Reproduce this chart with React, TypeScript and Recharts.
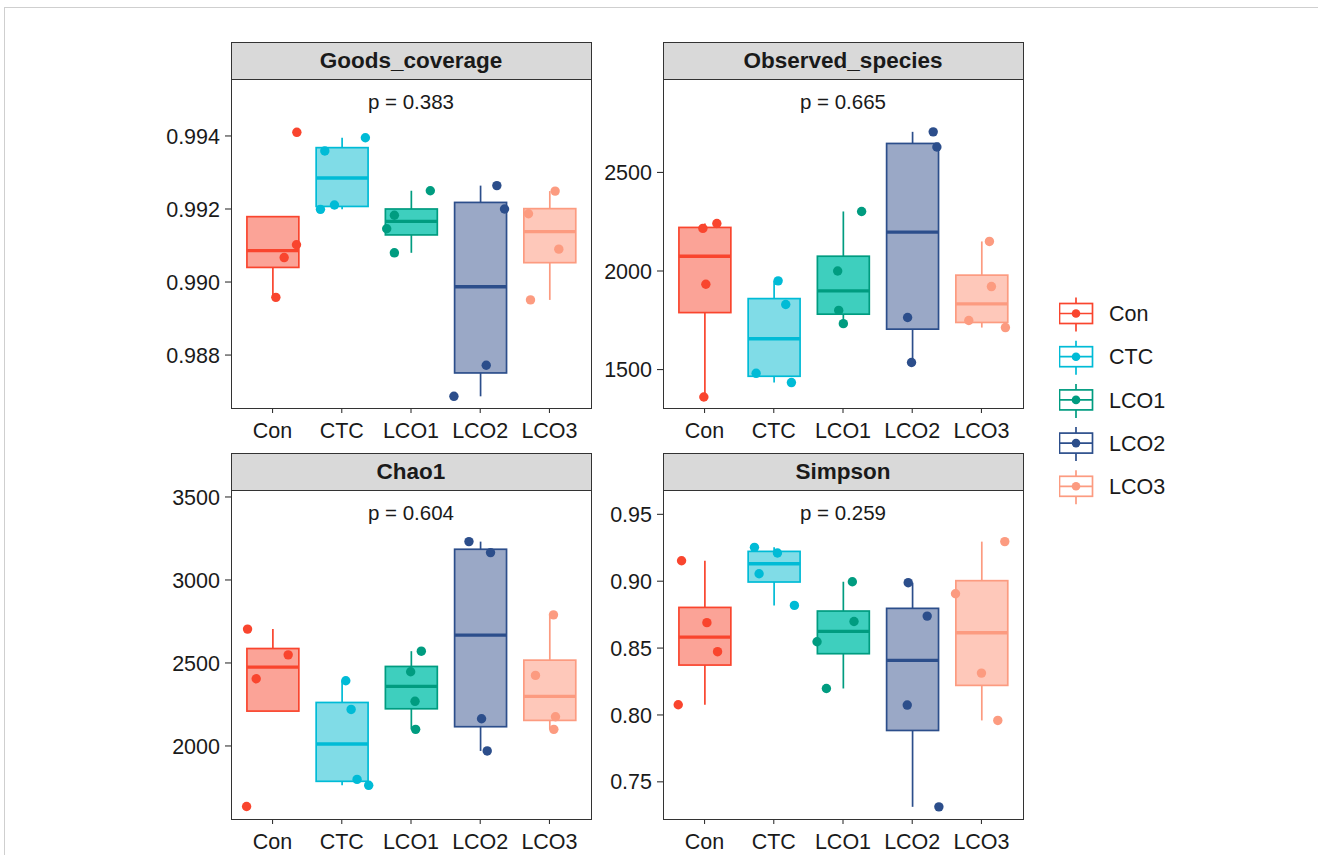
import React from 'react';
import { ComposedChart, Bar, Scatter, XAxis, YAxis } from 'recharts';

const groups = ['Con', 'CTC', 'LCO1', 'LCO2', 'LCO3'];
const lineColors = ['#F9452E', '#00BBD6', '#009C80', '#2C4E8B', '#FC9B80'];
const fillColors = ['#FBA397', '#80DCE7', '#3ECFBE', '#9AA8C6', '#FEC8BA'];

// box stats per group: [lower whisker, q1, median, q3, upper whisker]
const goodsBox = [
  [0.98958, 0.9904, 0.99086, 0.99179, 0.99179],
  [0.99199, 0.99207, 0.99285, 0.99368, 0.99395],
  [0.9908, 0.99129, 0.99166, 0.992, 0.9925],
  [0.98687, 0.98751, 0.98987, 0.99218, 0.99264],
  [0.98951, 0.99053, 0.99138, 0.99201, 0.99249],
];
const observedBox = [
  [1361, 1789, 2075, 2221, 2241],
  [1434, 1466, 1656, 1860, 1950],
  [1733, 1781, 1899, 2075, 2302],
  [1536, 1705, 2197, 2647, 2706],
  [1713, 1739, 1833, 1979, 2150],
];
const chaoBox = [
  [2210, 2210, 2475, 2587, 2704],
  [1763, 1787, 2012, 2262, 2393],
  [2100, 2224, 2359, 2479, 2571],
  [1970, 2116, 2668, 3185, 3231],
  [2100, 2154, 2299, 2517, 2790],
];
const simpsonBox = [
  [0.8076, 0.8373, 0.8582, 0.8804, 0.9153],
  [0.8819, 0.8994, 0.9131, 0.9223, 0.9253],
  [0.8198, 0.8458, 0.8625, 0.8777, 0.8996],
  [0.7313, 0.7884, 0.8408, 0.8797, 0.8989],
  [0.7959, 0.8221, 0.8615, 0.9004, 0.9296],
];

// jittered samples per group: [x position, value]
const goodsPts = [
  [[1.351, 0.9941], [1.346, 0.99102], [1.168, 0.99067], [1.048, 0.98958]],
  [[2.341, 0.99395], [1.755, 0.99359], [1.894, 0.99211], [1.692, 0.99199]],
  [[3.279, 0.9925], [2.76, 0.99183], [2.649, 0.99146], [2.76, 0.9908]],
  [[4.24, 0.99264], [4.351, 0.992], [4.087, 0.98772], [3.62, 0.98687]],
  [[5.082, 0.99249], [4.697, 0.99187], [5.135, 0.9909], [4.726, 0.98951]],
];
const observedPts = [
  [[1.178, 2241], [0.976, 2216], [1.019, 1933], [0.99, 1361]],
  [[2.063, 1950], [2.173, 1830], [1.745, 1481], [2.255, 1434]],
  [[3.269, 2302], [2.923, 2000], [2.938, 1800], [3.005, 1733]],
  [[4.303, 2706], [4.356, 2629], [3.933, 1764], [3.99, 1536]],
  [[5.115, 2150], [5.144, 1921], [4.817, 1749], [5.346, 1713]],
];
const chaoPts = [
  [[0.639, 2704], [1.226, 2549], [0.764, 2405], [0.625, 1635]],
  [[2.058, 2393], [2.135, 2220], [2.221, 1799], [2.389, 1763]],
  [[3.149, 2571], [2.995, 2447], [3.058, 2269], [3.067, 2100]],
  [[3.837, 3231], [4.149, 3165], [4.019, 2164], [4.101, 1970]],
  [[5.058, 2790], [4.798, 2425], [5.087, 2176], [5.063, 2100]],
];
const simpsonPts = [
  [[0.668, 0.9153], [1.034, 0.869], [1.188, 0.8473], [0.62, 0.8076]],
  [[1.721, 0.9253], [2.053, 0.9211], [1.788, 0.9056], [2.298, 0.8819]],
  [[3.135, 0.8996], [3.159, 0.8699], [2.625, 0.8547], [2.76, 0.8198]],
  [[3.942, 0.8989], [4.216, 0.8739], [3.928, 0.8074], [4.385, 0.7313]],
  [[5.337, 0.9296], [4.625, 0.8906], [5.0, 0.8313], [5.236, 0.7959]],
];

const goodsTicks = [0.988, 0.99, 0.992, 0.994];
const observedTicks = [1500, 2000, 2500];
const chaoTicks = [2000, 2500, 3000, 3500];
const simpsonTicks = [0.75, 0.8, 0.85, 0.9, 0.95];

const FONT = '"Liberation Sans", Arial, Helvetica, sans-serif';
const PW = 360; // panel width
const PH = 329; // panel height
const YW = 110; // y axis width
const XH = 44; // x axis height
const TOPM = 12; // room above the panel for the top tick label
const STRIP = 37;

const BoxShape = (props: any) => {
  const { x, y, width, height } = props;
  const d = props.payload ?? props;
  const [lo, q1, med, q3, hi] = d.stats;
  const top = Math.min(y, y + height);
  const bot = Math.max(y, y + height);
  const py = (v: number) => (hi === lo ? top : bot - ((v - lo) / (hi - lo)) * (bot - top));
  const cx = x + width / 2;
  const c = lineColors[d.i];
  return (
    <g>
      <line x1={cx} x2={cx} y1={py(hi)} y2={py(q3)} stroke={c} strokeWidth={1.7} />
      <line x1={cx} x2={cx} y1={py(q1)} y2={py(lo)} stroke={c} strokeWidth={1.7} />
      <rect x={x} y={py(q3)} width={width} height={py(q1) - py(q3)} fill={fillColors[d.i]} stroke={c} strokeWidth={1.7} />
      <line x1={x} x2={x + width} y1={py(med)} y2={py(med)} stroke={c} strokeWidth={3.4} />
    </g>
  );
};

const Dot = (props: any) => (
  <circle cx={props.cx} cy={props.cy} r={4.7} fill={lineColors[props.payload.g]} />
);

interface PanelProps {
  title: string;
  p: string;
  box: number[][];
  pts: number[][][];
  domain: [number, number];
  ticks: number[];
  digits: number;
  left: number;
  top: number;
}

function Panel({ title, p, box, pts, domain, ticks, digits, left, top }: PanelProps) {
  const rows = groups.map((g, i) => ({ group: g, range: [box[i][0], box[i][4]], stats: box[i], i }));
  const dots = pts.flatMap((list, i) => list.map(([x, y]) => ({ x, y, g: i })));
  const pad = (PW / 5.2) * 0.1;
  const tickStyle = { fill: '#1a1a1a', fontSize: 21.5, fontFamily: FONT };
  return (
    <>
      <div
        style={{
          position: 'absolute', left: left - 0.5, top: top - STRIP, width: PW + 1, height: STRIP + 1,
          boxSizing: 'border-box', border: '1px solid #333', background: '#d9d9d9',
          display: 'flex', alignItems: 'center', justifyContent: 'center',
          fontFamily: FONT, fontWeight: 'bold', fontSize: 22.5, color: '#1a1a1a',
        }}
      >
        {title}
      </div>
      <div style={{ position: 'absolute', left: left - YW, top: top - TOPM }}>
        <ComposedChart width={YW + PW} height={TOPM + PH + XH} data={rows} margin={{ top: TOPM, right: 0, bottom: 0, left: 0 }}>
          <XAxis
            xAxisId="num" dataKey="x" type="number" domain={[0.4, 5.6]} ticks={[1, 2, 3, 4, 5]}
            allowDataOverflow interval={0} height={XH} axisLine={false}
            tickLine={{ stroke: '#333', strokeWidth: 1.1 }} tickSize={5} tickMargin={10}
            tickFormatter={(v: number) => groups[Math.round(v) - 1]} tick={tickStyle}
          />
          <XAxis xAxisId="cat" dataKey="group" type="category" hide height={0} padding={{ left: pad, right: pad }} />
          <YAxis
            dataKey="y" type="number" domain={domain} ticks={ticks} allowDataOverflow width={YW}
            axisLine={false} tickLine={{ stroke: '#333', strokeWidth: 1.1 }} tickSize={6} tickMargin={5}
            interval={0} tickFormatter={(v: number) => v.toFixed(digits)} tick={tickStyle}
          />
          <Bar xAxisId="cat" dataKey="range" barSize={PW / 5.2 * 0.75} shape={BoxShape} isAnimationActive={false} />
          <Scatter xAxisId="num" data={dots} dataKey="y" shape={Dot} isAnimationActive={false} />
        </ComposedChart>
      </div>
      <div
        style={{
          position: 'absolute', left: left - 0.5, top: top, width: PW + 1, height: PH + 0.5,
          boxSizing: 'border-box', border: '1px solid #333', pointerEvents: 'none',
        }}
      />
      <div
        style={{
          position: 'absolute', left, top: top + 11, width: PW, textAlign: 'center',
          fontFamily: FONT, fontSize: 20.5, color: '#1a1a1a', lineHeight: '24px',
        }}
      >
        {p}
      </div>
    </>
  );
}

function LegendBox() {
  const cx = 17;
  return (
    <svg width={140} height={230} style={{ position: 'absolute', left: 1059, top: 290 }}>
      {groups.map((g, i) => {
        const cy = 23.5 + i * 43.2;
        const c = lineColors[i];
        return (
          <g key={g}>
            <line x1={cx} x2={cx} y1={cy - 16} y2={cy + 18} stroke={c} strokeWidth={1.7} />
            <rect x={0.5} y={cy - 10} width={33} height={20} fill="#fff" stroke={c} strokeWidth={1.7} />
            <line x1={0.5} x2={33.5} y1={cy} y2={cy} stroke={c} strokeWidth={1.7} />
            <circle cx={cx} cy={cy} r={4.3} fill={c} />
            <text x={50} y={cy} dy="0.36em" fontFamily={FONT} fontSize={21.5} fill="#1a1a1a">
              {g}
            </text>
          </g>
        );
      })}
    </svg>
  );
}

export default function App() {
  return (
    <div style={{ position: 'absolute', left: 0, top: 0, width: 1318, height: 855, overflow: 'hidden', background: '#fff' }}>
      <div
        style={{
          position: 'absolute', left: 4, top: 7, width: 1400, height: 900,
          borderLeft: '1.5px solid #cfcfcf', borderTop: '1.5px solid #cfcfcf',
        }}
      />
      <Panel title="Goods_coverage" p="p = 0.383" box={goodsBox} pts={goodsPts}
        domain={[0.98655, 0.99556]} ticks={goodsTicks} digits={3} left={231} top={79} />
      <Panel title="Observed_species" p="p = 0.665" box={observedBox} pts={observedPts}
        domain={[1305, 2974]} ticks={observedTicks} digits={0} left={663} top={79} />
      <Panel title="Chao1" p="p = 0.604" box={chaoBox} pts={chaoPts}
        domain={[1560, 3542]} ticks={chaoTicks} digits={0} left={231} top={490} />
      <Panel title="Simpson" p="p = 0.259" box={simpsonBox} pts={simpsonPts}
        domain={[0.7222, 0.9682]} ticks={simpsonTicks} digits={2} left={663} top={490} />
      <LegendBox />
    </div>
  );
}
